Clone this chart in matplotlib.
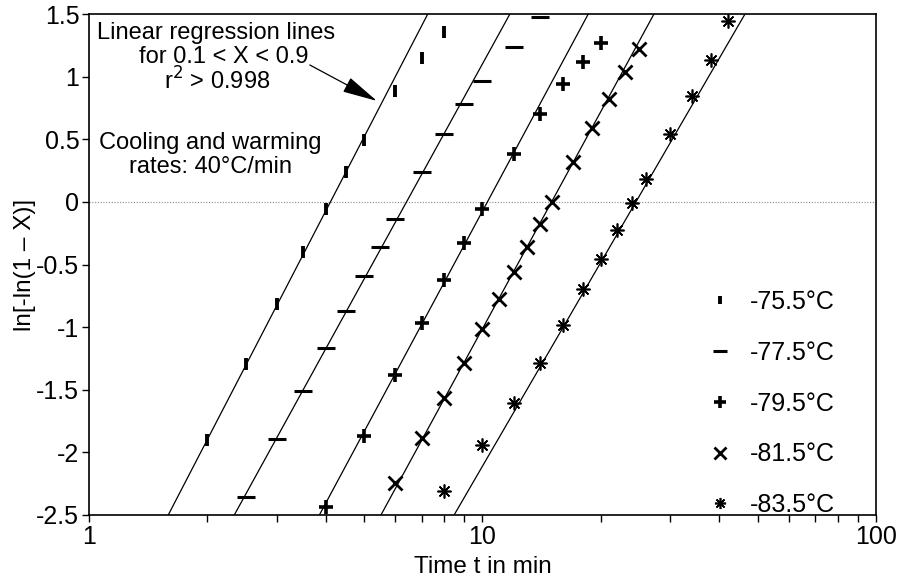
import numpy as np
import matplotlib
matplotlib.use('Agg')
import matplotlib.pyplot as plt
from matplotlib.lines import Line2D

plt.rcParams['font.family'] = ['Liberation Sans', 'DejaVu Sans']
plt.rcParams['axes.unicode_minus'] = False

# data
t755 = [2, 2.5, 3, 3.5, 4, 4.5, 5, 6, 7, 8]
y755 = [-1.90, -1.294, -0.815, -0.398, -0.059, 0.241, 0.494, 0.888, 1.146, 1.356]

t775 = [2.5, 3, 3.5, 4, 4.5, 5, 5.5, 6, 7, 8, 9, 10, 12, 14]
y775 = [-2.354, -1.896, -1.507, -1.169, -0.869, -0.594, -0.358, -0.137, 0.236, 0.54, 0.779, 0.965, 1.239, 1.479]

t795 = [4, 5, 6, 7, 8, 9, 10, 12, 14, 16, 18, 20]
y795 = [-2.438, -1.867, -1.382, -0.969, -0.624, -0.326, -0.057, 0.38, 0.70, 0.939, 1.12, 1.271]

t815 = [6, 7, 8, 9, 10, 11, 12, 13, 14, 15, 17, 19, 21, 23, 25]
y815 = [-2.242, -1.888, -1.568, -1.289, -1.017, -0.778, -0.557, -0.358, -0.176, 0.002, 0.316, 0.588, 0.822, 1.04, 1.218]

t835 = [8, 10, 12, 14, 16, 18, 20, 22, 24, 26, 30, 34, 38, 42]
y835 = [-2.308, -1.941, -1.603, -1.289, -0.983, -0.698, -0.458, -0.224, -0.006, 0.18, 0.54, 0.846, 1.133, 1.444]

# regression lines: time where line crosses y=-2.5 and y=1.5
lineY = [-2.5, 1.5]
line755 = [1.59, 7.26]
line775 = [2.34, 11.74]
line795 = [3.85, 18.57]
line815 = [5.52, 27.28]
line835 = [8.47, 46.47]

labels = ['-75.5°C', '-77.5°C', '-79.5°C', '-81.5°C', '-83.5°C']
yticks = [-2.5, -2, -1.5, -1, -0.5, 0, 0.5, 1, 1.5]
yticklabels = ['-2.5', '-2', '-1.5', '-1', '-0.5', '0', '0.5', '1', '1.5']

fig = plt.figure(figsize=(9, 5.81), dpi=100)
ax = fig.add_axes([0.0989, 0.1136, 0.8744, 0.8623])

ax.axhline(0, color='#888888', lw=0.8, ls=(0, (1, 1.5)), zorder=1)

for lx in [line755, line775, line795, line815, line835]:
    ax.plot(lx, lineY, color='black', lw=0.9, zorder=2)

mk = [dict(marker='|', ms=8, mew=2.8),
      dict(marker='_', ms=13, mew=2.2),
      dict(marker='+', ms=10, mew=2.6),
      dict(marker='x', ms=10, mew=2.0),
      dict(marker=(8, 2, 0), ms=10, mew=1.2)]
series = [(t755, y755), (t775, y775), (t795, y795), (t815, y815), (t835, y835)]
handles = []
for (tt, yy), m, lab in zip(series, mk, labels):
    ax.plot(tt, yy, ls='none', color='black', zorder=3, **m)
    hm = dict(m)
    hm['ms'] = m['ms'] * 0.8
    handles.append(Line2D([], [], ls='none', color='black', **hm))

ax.set_xscale('log')
ax.set_xlim(1, 100)
ax.set_ylim(-2.5, 1.5)
ax.set_yticks(yticks)
ax.set_yticklabels(yticklabels)
ax.set_xticks([1, 10, 100])
ax.set_xticklabels(['1', '10', '100'])
ax.tick_params(axis='both', which='both', direction='out', length=5, width=1, labelsize=18, pad=2)
ax.tick_params(axis='x', which='minor', length=5, width=1)
for s in ax.spines.values():
    s.set_linewidth(1.2)

ax.set_xlabel('Time t in min', fontsize=17.5, labelpad=5)
ax.set_ylabel('ln[-ln(1 \u2013 X)]', fontsize=17.5, labelpad=0)

ax.text(0.161, 0.962, 'Linear regression lines', transform=ax.transAxes,
        ha='center', va='center', fontsize=17)
ax.text(0.171, 0.915, 'for 0.1 < X < 0.9', transform=ax.transAxes,
        ha='center', va='center', fontsize=17)
ax.text(0.163, 0.866, 'r$^2$ > 0.998', transform=ax.transAxes,
        ha='center', va='center', fontsize=17)
ax.text(0.154, 0.742, 'Cooling and warming', transform=ax.transAxes,
        ha='center', va='center', fontsize=17)
ax.text(0.154, 0.695, 'rates: 40°C/min', transform=ax.transAxes,
        ha='center', va='center', fontsize=17)

ax.annotate('', xy=(5.39, 0.806), xytext=(3.64, 1.093),
            arrowprops=dict(arrowstyle='-|>,head_length=1.1,head_width=0.25',
                            mutation_scale=20, color='black', lw=0.9,
                            shrinkA=0, shrinkB=0))

ax.legend(handles, labels, loc='upper left', bbox_to_anchor=(0.786, 0.449),
          frameon=False, fontsize=18, handlelength=1.0, handletextpad=0.7,
          labelspacing=1.07, borderpad=0, borderaxespad=0)

fig.savefig('out.png', dpi=100)
